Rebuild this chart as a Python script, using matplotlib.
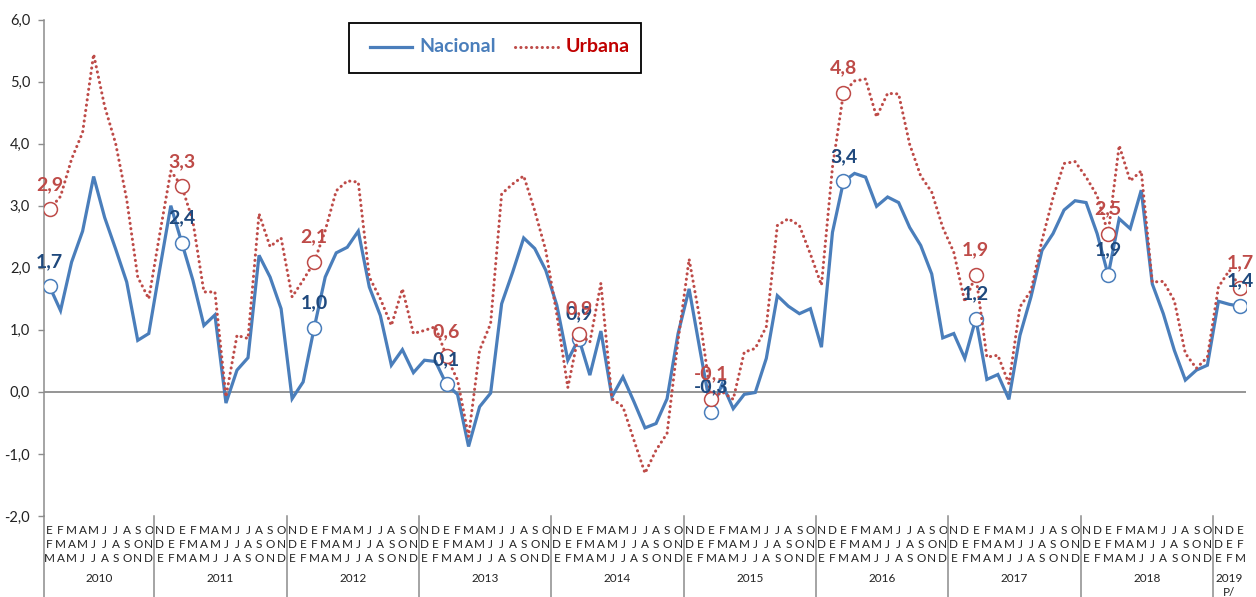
import matplotlib
matplotlib.use('Agg')
import matplotlib.pyplot as plt
from matplotlib.transforms import blended_transform_factory
from matplotlib.lines import Line2D
from matplotlib.patches import Rectangle

plt.rcParams['font.family'] = ['Lato', 'DejaVu Sans']

# ---------------- data ----------------
nacional = [1.70, 1.31, 2.09, 2.59, 3.47, 2.81, 2.30, 1.77, 0.83, 0.94,
            1.98, 3.00, 2.40, 1.80, 1.07, 1.24, -0.18, 0.35, 0.55, 2.20, 1.85, 1.34,
            -0.11, 0.16, 1.03, 1.85, 2.24, 2.33, 2.59, 1.69, 1.23, 0.43, 0.68, 0.31,
            0.51, 0.49, 0.12, -0.04, -0.88, -0.24, -0.02, 1.42, 1.93, 2.48, 2.31, 1.96,
            1.40, 0.51, 0.86, 0.27, 0.98, -0.08, 0.24, -0.16, -0.58, -0.51, -0.11, 0.94,
            1.66, 0.66, -0.32, 0.13, -0.27, -0.04, -0.01, 0.54, 1.55, 1.38, 1.26, 1.34,
            0.72, 2.57, 3.39, 3.52, 3.46, 2.99, 3.14, 3.05, 2.65, 2.36, 1.90, 0.87,
            0.94, 0.54, 1.18, 0.20, 0.28, -0.12, 0.91, 1.53, 2.28, 2.55, 2.93, 3.08,
            3.05, 2.55, 1.88, 2.79, 2.63, 3.25, 1.74, 1.26, 0.67, 0.19, 0.35, 0.43,
            1.46, 1.41, 1.38]
urbana = [2.94, 3.15, 3.75, 4.18, 5.44, 4.60, 4.00, 3.10, 1.85, 1.50,
          2.55, 3.56, 3.31, 2.75, 1.61, 1.61, -0.08, 0.91, 0.86, 2.87, 2.34, 2.48,
          1.53, 1.80, 2.09, 2.60, 3.24, 3.40, 3.38, 1.85, 1.50, 1.07, 1.66, 0.94,
          0.99, 1.05, 0.57, 0.19, -0.72, 0.67, 1.10, 3.19, 3.35, 3.48, 2.92, 2.28,
          1.25, 0.07, 0.94, 0.80, 1.75, -0.11, -0.24, -0.78, -1.31, -0.94, -0.67, 0.83,
          2.14, 1.15, -0.11, 0.00, -0.12, 0.64, 0.70, 1.05, 2.68, 2.79, 2.68, 2.22,
          1.72, 3.62, 4.82, 5.01, 5.04, 4.43, 4.81, 4.80, 3.99, 3.48, 3.22, 2.65,
          2.25, 1.45, 1.88, 0.56, 0.59, 0.13, 1.37, 1.63, 2.44, 3.13, 3.68, 3.71,
          3.46, 3.16, 2.55, 3.97, 3.40, 3.56, 1.77, 1.78, 1.47, 0.62, 0.38, 0.56,
          1.69, 1.96, 1.67]

marker_idx = [0, 12, 24, 36, 48, 60, 72, 84, 96, 108]
nac_labels = ["1,7", "2,4", "1,0", "0,1", "0,9", "-0,3", "3,4", "1,2", "1,9", "1,4"]
urb_labels = ["2,9", "3,3", "2,1", "0,6", "0,9", "-0,1", "4,8", "1,9", "2,5", "1,7"]

months_row1 = ["EFMAMJJASO", "NDEFMAMJJASO", "NDEFMAMJJASO", "NDEFMAMJJASO",
               "NDEFMAMJJASO", "NDEFMAMJJASO", "NDEFMAMJJASO", "NDEFMAMJJASO",
               "NDEFMAMJJASO", "NDE"]
months_row2 = ["FMAMJJASON", "DEFMAMJJASON", "DEFMAMJJASON", "DEFMAMJJASON",
               "DEFMAMJJASON", "DEFMAMJJASON", "DEFMAMJJASON", "DEFMAMJJASON",
               "DEFMAMJJASON", "DEF"]
months_row3 = ["MAMJJASOND", "EFMAMJJASOND", "EFMAMJJASOND", "EFMAMJJASOND",
               "EFMAMJJASOND", "EFMAMJJASOND", "EFMAMJJASOND", "EFMAMJJASOND",
               "EFMAMJJASOND", "EFM"]
years = ["2010", "2011", "2012", "2013", "2014", "2015", "2016", "2017", "2018", "2019"]
year_note = "P/"

y_ticks = [-2, -1, 0, 1, 2, 3, 4, 5, 6]
y_tick_labels = ["-2,0", "-1,0", "0,0", "1,0", "2,0", "3,0", "4,0", "5,0", "6,0"]

# ---------------- figure ----------------
W, H = 1256, 597
fig = plt.figure(figsize=(W / 100, H / 100), dpi=100)
ax = fig.add_axes([44 / W, 1 - 516 / H, (1246 - 44) / W, (516 - 19.5) / H])


def fy(py):
    return 1 - py / H


def fxp(px):
    return px / W


BLUE = '#4A7EBB'
RED = '#BE4B48'
NAVY = '#1F497D'
GRAY = '#8C8C8C'
DOTS = (0, (0.05, 1.7))

x = list(range(len(nacional)))
ax.axhline(0, color=GRAY, lw=1.3, zorder=1)

ax.plot(x, nacional, color=BLUE, lw=2.3, zorder=3, solid_joinstyle='miter',
        marker='o', markevery=marker_idx, markersize=10,
        markerfacecolor='white', markeredgecolor=BLUE, markeredgewidth=1.1)
ax.plot(x, urbana, color=RED, lw=2.2, ls=DOTS, dash_capstyle='round',
        zorder=4, marker='o', markevery=marker_idx, markersize=10,
        markerfacecolor='white', markeredgecolor=RED, markeredgewidth=1.1)

for k, i in enumerate(marker_idx):
    ax.annotate(nac_labels[k], (i, nacional[i]), xytext=(0, 18),
                textcoords='offset points', ha='center', va='center',
                fontsize=14, fontweight='bold', color=NAVY, zorder=6,
                annotation_clip=False)
for k, i in enumerate(marker_idx):
    ax.annotate(urb_labels[k], (i, urbana[i]), xytext=(0, 18),
                textcoords='offset points', ha='center', va='center',
                fontsize=14, fontweight='bold', color=RED, zorder=7,
                annotation_clip=False)

ax.set_xlim(-0.5, len(nacional) - 0.5)
ax.set_ylim(-2, 6)
ax.set_yticks(y_ticks)
ax.set_yticklabels(y_tick_labels)
ax.set_xticks([])
ax.tick_params(axis='y', direction='out', length=4, width=1, color=GRAY,
               pad=6, labelsize=10.5, labelcolor='#222222')
for s in ['top', 'right', 'bottom']:
    ax.spines[s].set_visible(False)
ax.spines['left'].set_color(GRAY)
ax.spines['left'].set_linewidth(1.1)

# ---------------- category axis labels ----------------
tr = blended_transform_factory(ax.transData, fig.transFigure)
start = 0
bounds = [-0.5]
for g in range(len(years)):
    n = len(months_row1[g])
    for j in range(n):
        xi = start + j
        for row, py in ((months_row1, 531), (months_row2, 545), (months_row3, 559)):
            ax.text(xi, fy(py), row[g][j], transform=tr, ha='center', va='center',
                    fontsize=8.5, color='#222222', clip_on=False)
    ax.text(start + (n - 1) / 2, fy(578), years[g], transform=tr, ha='center',
            va='center', fontsize=8.5, color='#222222', clip_on=False)
    start += n
    bounds.append(start - 0.5)
ax.text(start - 2, fy(592), year_note, transform=tr, ha='center', va='center',
        fontsize=8.5, color='#222222', clip_on=False)

for b in bounds[:-1]:
    ln = Line2D([b, b], [fy(516), fy(597)], transform=tr, color=GRAY, lw=1.1,
                clip_on=False)
    fig.add_artist(ln)

# ---------------- legend ----------------
fig.add_artist(Rectangle((fxp(349), fy(73)), fxp(292), (73 - 23) / H,
                         transform=fig.transFigure, facecolor='white',
                         edgecolor='black', lw=1.3, zorder=10))
fig.add_artist(Line2D([fxp(370), fxp(412)], [fy(47), fy(47)], transform=fig.transFigure,
                      color=BLUE, lw=2.3, zorder=11))
fig.text(fxp(419), fy(47), "Nacional", ha='left', va='center', fontsize=14,
         fontweight='bold', color=BLUE, zorder=11)
fig.add_artist(Line2D([fxp(515), fxp(558)], [fy(47), fy(47)], transform=fig.transFigure,
                      color=RED, lw=2.2, ls=DOTS, dash_capstyle='round', zorder=11))
fig.text(fxp(566), fy(47), "Urbana", ha='left', va='center', fontsize=14,
         fontweight='bold', color='#C00000', zorder=11)

fig.savefig('out.png', dpi=100)
